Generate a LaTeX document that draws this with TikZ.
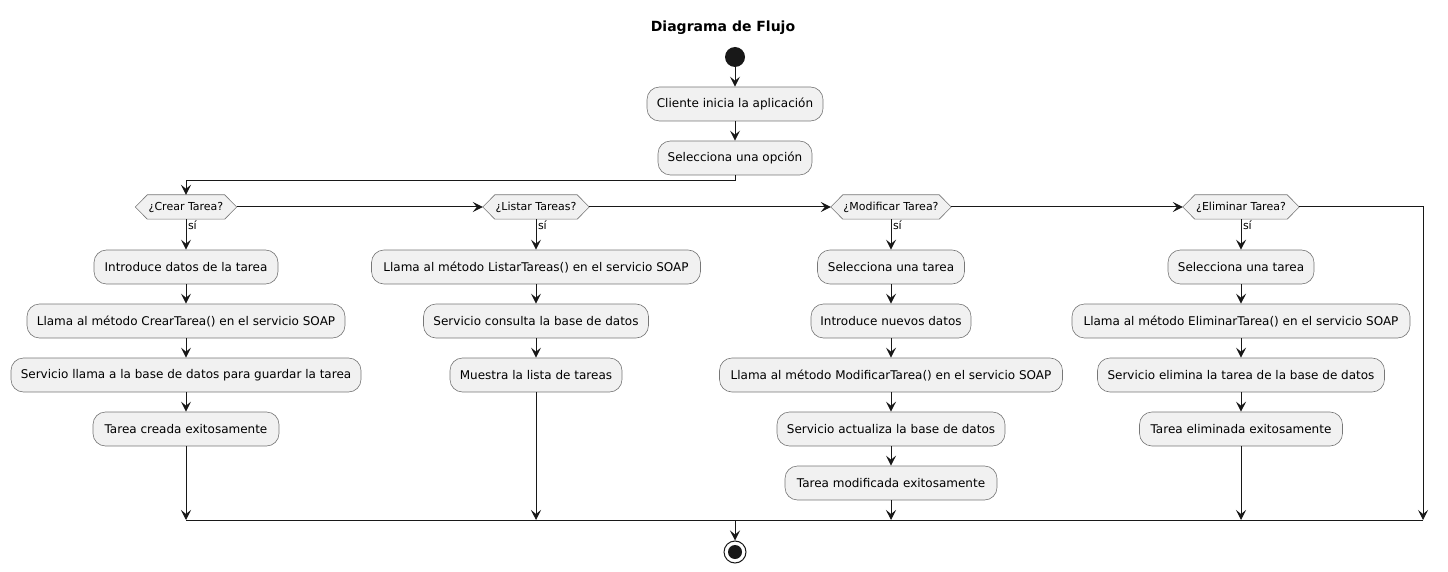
\documentclass[tikz,border=0pt]{standalone}
\usepackage{fontspec}
\setmainfont{DejaVu Sans}
\usetikzlibrary{arrows.meta,backgrounds}
\definecolor{boxfill}{HTML}{F1F1F1}
\definecolor{ink}{HTML}{181818}
\definecolor{edge}{HTML}{777777}
\begin{document}
\begin{tikzpicture}[x=1pt,y=-1pt,
  act/.style={draw=edge, line width=0.6pt, fill=boxfill, rounded corners=12.5pt,
    minimum height=34pt, inner sep=0pt, font=\fontsize{12}{14}\selectfont},
  dec/.style={minimum height=24pt, inner sep=0pt, font=\fontsize{11}{13}\selectfont},
  hexs/.style={draw=edge, line width=0.6pt, fill=boxfill},
  arr/.style={draw=ink, line width=1pt, -{Stealth[length=10pt,width=10pt,inset=4pt]}},
  ln/.style={draw=ink, line width=1pt},
  lbl/.style={anchor=west, inner sep=1.5pt, font=\fontsize{11}{13}\selectfont},
  ttl/.style={font=\fontsize{14}{16}\selectfont\bfseries, inner sep=0pt}
]
\useasboundingbox (0,0) rectangle (1448,572);

% title and start
\node[ttl] (title) at (723,28) {Diagrama de Flujo};
\fill[ink] (735,57) circle (10pt) coordinate (startc);
\coordinate (start) at (735,67);

\node[act, minimum width=176pt] (b1) at (735,104) {Cliente inicia la aplicación};
\node[act, minimum width=154pt] (b2) at (735,158) {Selecciona una opción};

% decisions
\node[dec, minimum width=101pt] (d1) at (186,207) {¿Crear Tarea?};
\node[dec, minimum width=106pt] (d2) at (536,207) {¿Listar Tareas?};
\node[dec, minimum width=120pt] (d3) at (891,207) {¿Modificar Tarea?};
\node[dec, minimum width=116pt] (d4) at (1241,207) {¿Eliminar Tarea?};
\begin{scope}[on background layer]
\foreach \n in {d1,d2,d3,d4}{
  \path[hexs] (\n.west) -- ([xshift=12pt]\n.north west) -- ([xshift=-12pt]\n.north east)
    -- (\n.east) -- ([xshift=-12pt]\n.south east) -- ([xshift=12pt]\n.south west) -- cycle;
}
\end{scope}

% column 1
\node[act, minimum width=184pt] (c1a) at (186,267) {Introduce datos de la tarea};
\node[act, minimum width=318pt] (c1b) at (186,321) {Llama al método CrearTarea() en el servicio SOAP};
\node[act, minimum width=350pt] (c1c) at (186,375) {Servicio llama a la base de datos para guardar la tarea};
\node[act, minimum width=186pt] (c1d) at (186,429) {Tarea creada exitosamente};

% column 2
\node[act, minimum width=329pt] (c2a) at (536,267) {Llama al método ListarTareas() en el servicio SOAP};
\node[act, minimum width=225pt] (c2b) at (536,321) {Servicio consulta la base de datos};
\node[act, minimum width=172pt] (c2c) at (536,375) {Muestra la lista de tareas};

% column 3
\node[act, minimum width=147pt] (c3a) at (891,267) {Selecciona una tarea};
\node[act, minimum width=160pt] (c3b) at (891,321) {Introduce nuevos datos};
\node[act, minimum width=343pt] (c3c) at (891,375) {Llama al método ModificarTarea() en el servicio SOAP};
\node[act, minimum width=228pt] (c3d) at (891,429) {Servicio actualiza la base de datos};
\node[act, minimum width=212pt] (c3e) at (891,483) {Tarea modificada exitosamente};

% column 4
\node[act, minimum width=146pt] (c4a) at (1241,267) {Selecciona una tarea};
\node[act, minimum width=338pt] (c4b) at (1241,321) {Llama al método EliminarTarea() en el servicio SOAP};
\node[act, minimum width=287pt] (c4c) at (1241,375) {Servicio elimina la tarea de la base de datos};
\node[act, minimum width=203pt] (c4d) at (1241,429) {Tarea eliminada exitosamente};

% merge points and end
\coordinate (m1) at (186,520);
\coordinate (m2) at (536,520);
\coordinate (m3) at (891,520);
\coordinate (m4) at (1241,520);
\coordinate (m5) at (1423,520);
\coordinate (mc) at (735,520);
\node[circle, draw=ink, line width=1pt, fill=white, minimum size=22pt, inner sep=0pt] (endc) at (735,552) {};
\fill[ink] (endc.center) circle (7pt);

% connectors
\draw[arr] (start) -- (b1.north);
\draw[arr] (b1.south) -- (b2.north);
\draw[arr] (b2.south) -- ++(0,5) -| (d1.north);

\draw[arr] (d1.east) -- (d2.west);
\draw[arr] (d2.east) -- (d3.west);
\draw[arr] (d3.east) -- (d4.west);

\draw[arr] (d1.south) -- (c1a.north) node[lbl, pos=0.2] {sí};
\draw[arr] (c1a.south) -- (c1b.north);
\draw[arr] (c1b.south) -- (c1c.north);
\draw[arr] (c1c.south) -- (c1d.north);
\draw[arr] (c1d.south) -- (m1);

\draw[arr] (d2.south) -- (c2a.north) node[lbl, pos=0.2] {sí};
\draw[arr] (c2a.south) -- (c2b.north);
\draw[arr] (c2b.south) -- (c2c.north);
\draw[arr] (c2c.south) -- (m2);

\draw[arr] (d3.south) -- (c3a.north) node[lbl, pos=0.2] {sí};
\draw[arr] (c3a.south) -- (c3b.north);
\draw[arr] (c3b.south) -- (c3c.north);
\draw[arr] (c3c.south) -- (c3d.north);
\draw[arr] (c3d.south) -- (c3e.north);
\draw[arr] (c3e.south) -- (m3);

\draw[arr] (d4.south) -- (c4a.north) node[lbl, pos=0.2] {sí};
\draw[arr] (c4a.south) -- (c4b.north);
\draw[arr] (c4b.south) -- (c4c.north);
\draw[arr] (c4c.south) -- (c4d.north);
\draw[arr] (c4d.south) -- (m4);

\draw[arr] (d4.east) -| (m5);
\draw[ln] (m1) -- (m5);
\draw[arr] (mc) -- (endc.north);
\end{tikzpicture}
\end{document}
